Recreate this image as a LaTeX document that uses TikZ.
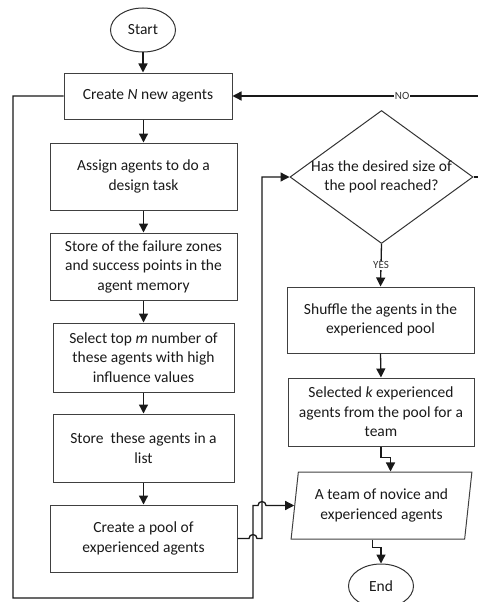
\documentclass[tikz,border=0pt]{standalone}
\usepackage{fontspec}
\setmainfont{Carlito}
\usetikzlibrary{shapes.geometric,arrows.meta,calc}
\begin{document}
\begin{tikzpicture}[x=1pt,y=1pt,
  every node/.style={font=\fontsize{15.5}{19.5}\selectfont, text=black!90},
  box/.style={draw=black!75, line width=1pt, rectangle, align=center, inner sep=0pt},
  term/.style={draw=black!80, line width=1pt, ellipse, inner sep=0pt, minimum width=65pt, minimum height=44pt},
  conn/.style={draw=black!90, line width=1.3pt, -{Triangle[length=9pt,width=9pt]}},
  lbl/.style={fill=white, font=\fontsize{11}{12}\selectfont, inner sep=1pt, text=black!80}
]
\useasboundingbox (0,0) rectangle (478,-602);
\node[term] (start) at (143,-30) {Start};
\node[box, minimum width=168pt, minimum height=46pt] (create) at (148,-96) {Create \textit{N} new agents};
\node[box, minimum width=187pt, minimum height=67pt] (assign) at (143.5,-176.5) {Assign agents to do a\\design task};
\node[box, minimum width=187pt, minimum height=67pt] (store1) at (143.5,-266.5) {Store of the failure zones\\and success points in the\\agent memory};
\node[box, minimum width=181pt, minimum height=69pt] (select) at (143.5,-357.5) {Select top \textit{m} number of\\these agents with high\\influence values};
\node[box, minimum width=181pt, minimum height=68pt] (store2) at (143.5,-448) {Store\ \ these agents in a\\list};
\node[box, minimum width=187pt, minimum height=67pt] (pool) at (143.5,-538.5) {Create a pool of\\experienced agents};
\node[draw=black!80, line width=1pt, diamond, minimum width=183pt, minimum height=133pt, inner sep=0pt] (dia) at (381.5,-177) {};
\node[align=center] (diatext) at (dia.center) {Has the desired size of\\the pool reached?};
\node[box, minimum width=187pt, minimum height=66pt] (shuffle) at (380.5,-320) {Shuffle the agents in the\\experienced pool};
\node[box, minimum width=186pt, minimum height=68pt] (selected) at (381,-412) {Selected \textit{k} experienced\\agents from the pool for a\\team};
\node[draw=black!75, line width=1pt, trapezium, trapezium stretches=true, trapezium left angle=80, trapezium right angle=100, minimum width=181pt, minimum height=67pt, inner sep=0pt, align=center] (para) at (381.5,-505.5) {A team of novice and\\experienced agents};
\node[term] (end) at (381,-586) {End};

\draw[conn] (start.south) -- (start.south |- create.north);
\draw[conn] (assign.north |- create.south) -- (assign.north);
\draw[conn] (assign.south) -- (store1.north);
\draw[conn] (store1.south) -- (select.north);
\draw[conn] (select.south) -- (store2.north);
\draw[conn] (store2.south) -- (pool.north);
\draw[conn] (pool.east) -- (249,-538.5) arc[start angle=180,end angle=0,radius=4] -- (262,-538.5) |- (dia.west);
\draw[conn] (create.west) -- (13,-96) -- (13,-598) -- (253,-598) -- (253,-505.5) -- (258,-505.5) arc[start angle=180,end angle=0,radius=4] -- (para.west);
\draw[conn] (dia.east) -- (479,-177) |- (create.east) node[pos=0.656, lbl] {NO};
\draw[conn] (dia.south) -- (shuffle.north) node[midway, lbl] {YES};
\draw[conn] (shuffle.south) -- (selected.north);
\draw[conn] (selected.south) -- ++(0,-11) -| ([xshift=9pt]para.north);
\draw[conn] ([xshift=-9pt]para.south) -- ++(0,-8) -| (end.north);
\end{tikzpicture}
\end{document}
